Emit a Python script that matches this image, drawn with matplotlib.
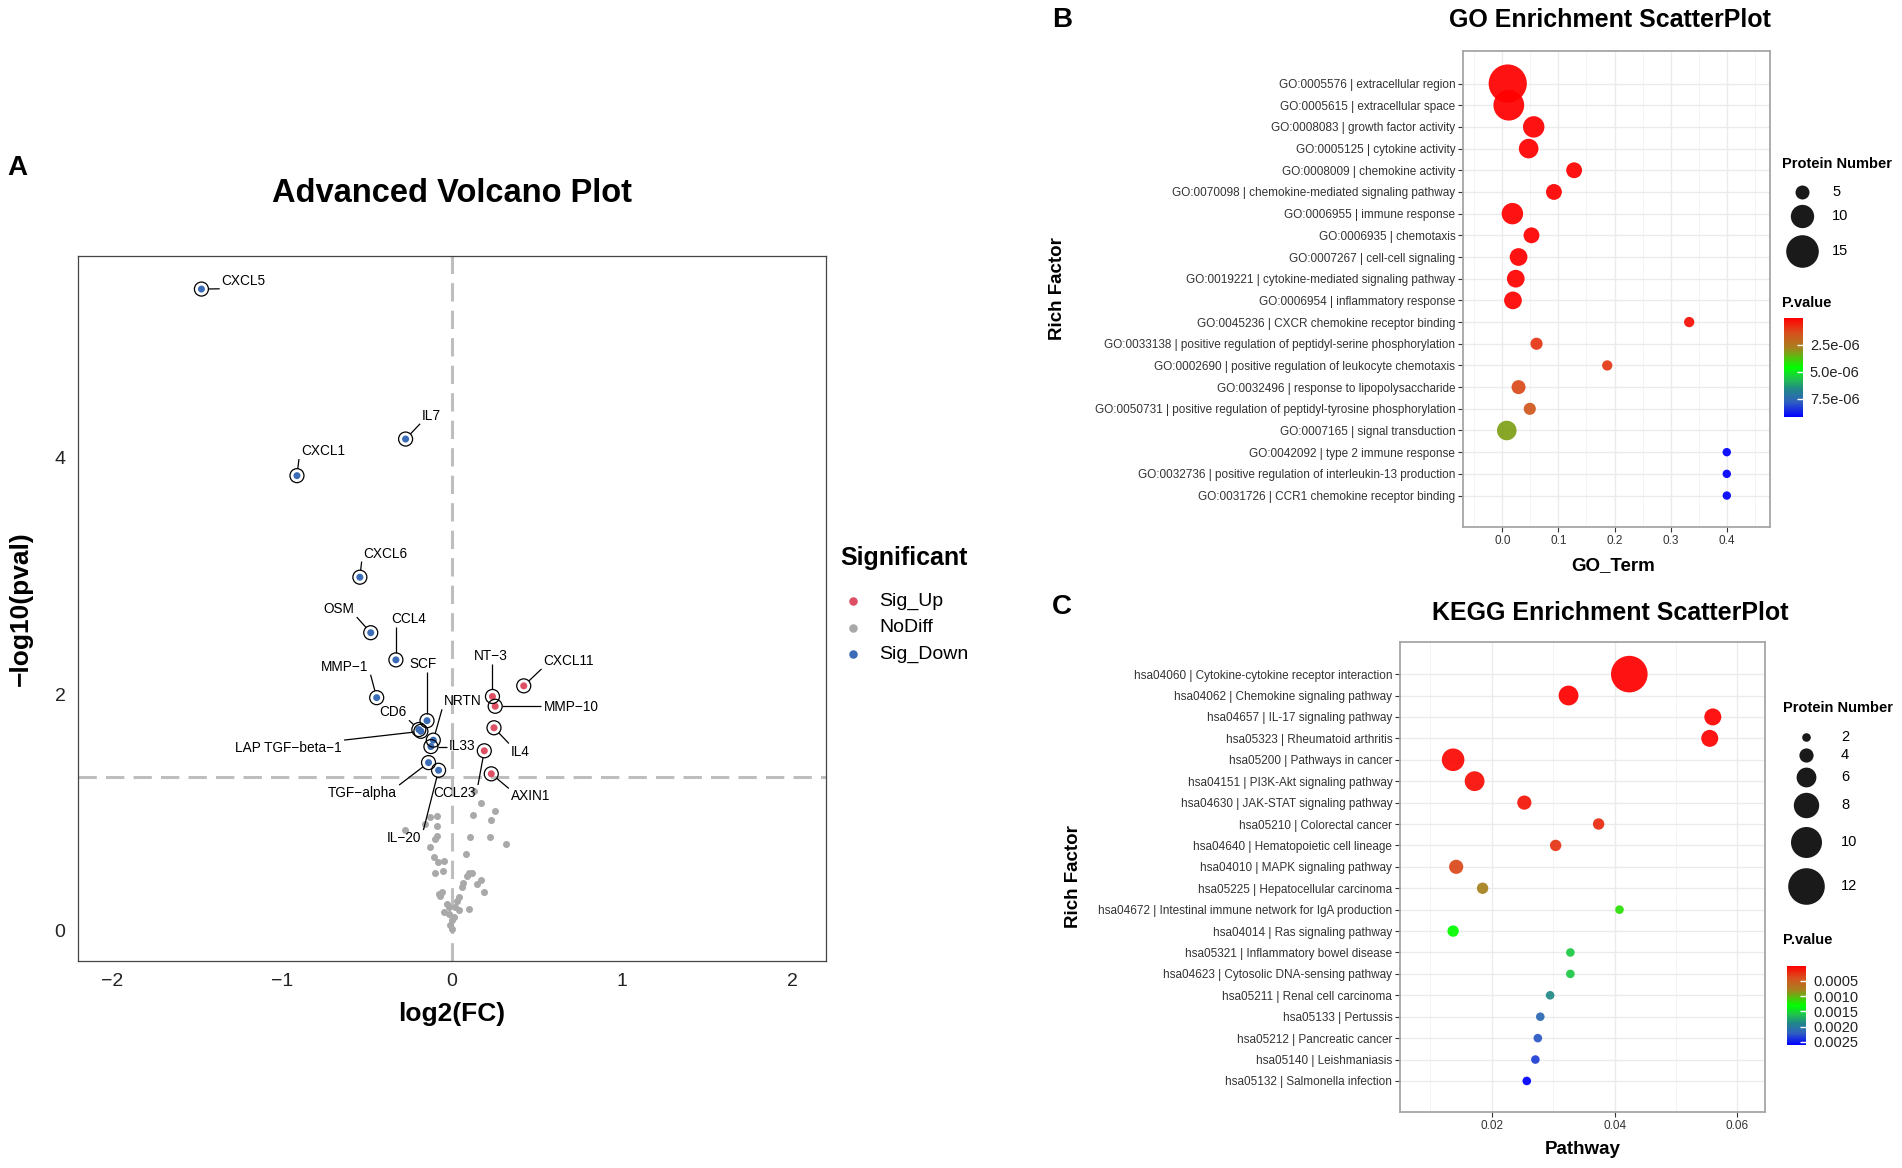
import numpy as np
import matplotlib
matplotlib.use("Agg")
import matplotlib.pyplot as plt
from matplotlib.colors import LinearSegmentedColormap, Normalize
from matplotlib.ticker import FixedLocator

plt.rcParams['font.family'] = ['Liberation Sans', 'DejaVu Sans']

W, H, DPI = 1902, 1168, 100

# ---------------- volcano data ----------------
sig_genes = ["CXCL5", "IL7", "CXCL1", "CXCL6", "OSM", "CCL4", "MMP-1", "SCF", "CD6",
             "LAP TGF-beta-1", "NRTN", "IL33", "TGF-alpha", "IL-20",
             "NT-3", "MMP-10", "CXCL11", "IL4", "CCL23", "AXIN1"]
sig_fc = [-1.474, -0.273, -0.912, -0.542, -0.478, -0.330, -0.443, -0.147, -0.195,
          -0.183, -0.110, -0.124, -0.138, -0.079,
          0.238, 0.254, 0.422, 0.247, 0.190, 0.231]
sig_logp = [5.43, 4.16, 3.85, 2.99, 2.52, 2.29, 1.97, 1.775, 1.70,
            1.685, 1.61, 1.556, 1.42, 1.355,
            1.98, 1.897, 2.07, 1.715, 1.52, 1.325]
sig_group = ["Sig_Down"] * 14 + ["Sig_Up"] * 6

nodiff_fc = [0.127, 0.171, 0.255, 0.122, 0.231, -0.127, -0.088, -0.157, -0.088, -0.275,
             -0.088, -0.102, 0.104, 0.222, 0.318, -0.131, 0.084, -0.106, -0.082, -0.049,
             0.098, 0.118, 0.088, -0.098, -0.055, 0.173, 0.147, 0.065, 0.059, -0.059,
             -0.075, -0.069, 0.190, 0.039, 0.029, -0.029, -0.020, 0.016, 0.039, 0.098,
             -0.049, -0.020, 0.010, 0.000, -0.010, 0.000]
nodiff_logp = [1.18, 1.08, 1.01, 0.975, 0.933, 0.956, 0.967, 0.899, 0.882, 0.848,
               0.797, 0.777, 0.786, 0.792, 0.735, 0.707, 0.650, 0.622, 0.580, 0.588,
               0.486, 0.486, 0.458, 0.486, 0.503, 0.430, 0.396, 0.401, 0.368, 0.325,
               0.311, 0.288, 0.325, 0.283, 0.249, 0.226, 0.198, 0.198, 0.170, 0.184,
               0.155, 0.141, 0.113, 0.085, 0.042, 0.014]

sig_levels = ["Sig_Up", "NoDiff", "Sig_Down"]
pval_cut = 0.05

# ---------------- GO data ----------------
go_terms = ["GO:0005576 | extracellular region",
            "GO:0005615 | extracellular space",
            "GO:0008083 | growth factor activity",
            "GO:0005125 | cytokine activity",
            "GO:0008009 | chemokine activity",
            "GO:0070098 | chemokine-mediated signaling pathway",
            "GO:0006955 | immune response",
            "GO:0006935 | chemotaxis",
            "GO:0007267 | cell-cell signaling",
            "GO:0019221 | cytokine-mediated signaling pathway",
            "GO:0006954 | inflammatory response",
            "GO:0045236 | CXCR chemokine receptor binding",
            "GO:0033138 | positive regulation of peptidyl-serine phosphorylation",
            "GO:0002690 | positive regulation of leukocyte chemotaxis",
            "GO:0032496 | response to lipopolysaccharide",
            "GO:0050731 | positive regulation of peptidyl-tyrosine phosphorylation",
            "GO:0007165 | signal transduction",
            "GO:0042092 | type 2 immune response",
            "GO:0032736 | positive regulation of interleukin-13 production",
            "GO:0031726 | CCR1 chemokine receptor binding"]
go_rich = [0.0097, 0.0116, 0.056, 0.047, 0.128, 0.092, 0.018, 0.052, 0.029, 0.024,
           0.019, 0.333, 0.061, 0.187, 0.029, 0.049, 0.008, 0.4, 0.4, 0.4]
go_count = [18, 14, 9, 8, 6, 6, 9, 6, 7, 7, 7, 3, 4, 3, 5, 4, 8, 2, 2, 2]
go_pval = [1.2e-14, 3.5e-12, 2.1e-10, 5.6e-10, 1.4e-9, 4.8e-9, 7.3e-9, 1.6e-8, 2.9e-8, 4.4e-8,
           6.1e-8, 2.8e-7, 9.2e-7, 1.0e-6, 1.3e-6, 1.65e-6, 3.2e-6, 9.2e-6, 9.2e-6, 9.2e-6]
go_size_breaks = [5, 10, 15]
go_pval_ticks = [2.5e-6, 5.0e-6, 7.5e-6]

# ---------------- KEGG data ----------------
kegg_terms = ["hsa04060 | Cytokine-cytokine receptor interaction",
              "hsa04062 | Chemokine signaling pathway",
              "hsa04657 | IL-17 signaling pathway",
              "hsa05323 | Rheumatoid arthritis",
              "hsa05200 | Pathways in cancer",
              "hsa04151 | PI3K-Akt signaling pathway",
              "hsa04630 | JAK-STAT signaling pathway",
              "hsa05210 | Colorectal cancer",
              "hsa04640 | Hematopoietic cell lineage",
              "hsa04010 | MAPK signaling pathway",
              "hsa05225 | Hepatocellular carcinoma",
              "hsa04672 | Intestinal immune network for IgA production",
              "hsa04014 | Ras signaling pathway",
              "hsa05321 | Inflammatory bowel disease",
              "hsa04623 | Cytosolic DNA-sensing pathway",
              "hsa05211 | Renal cell carcinoma",
              "hsa05133 | Pertussis",
              "hsa05212 | Pancreatic cancer",
              "hsa05140 | Leishmaniasis",
              "hsa05132 | Salmonella infection"]
kegg_rich = [0.0424, 0.0325, 0.0560, 0.0555, 0.0137, 0.0172, 0.0253, 0.0374, 0.0304, 0.0142,
             0.0185, 0.0408, 0.0137, 0.0328, 0.0328, 0.0295, 0.0279, 0.0275, 0.0271, 0.0257]
kegg_count = [12, 6, 5, 5, 7, 6, 4, 3, 3, 4, 3, 2, 3, 2, 2, 2, 2, 2, 2, 2]
kegg_pval = [1.0e-5, 2.0e-5, 3.0e-5, 4.0e-5, 6.0e-5, 8.0e-5, 1.2e-4, 2.2e-4, 2.7e-4, 3.7e-4,
             7.9e-4, 1.18e-3, 1.30e-3, 1.56e-3, 1.57e-3, 1.87e-3, 2.13e-3, 2.24e-3, 2.34e-3, 2.60e-3]
kegg_size_breaks = [2, 4, 6, 8, 10, 12]
kegg_pval_ticks = [0.0005, 0.0010, 0.0015, 0.0020, 0.0025]

# ---------------- layout / style ----------------
sig_colors = {"Sig_Up": "#DE4F64", "NoDiff": "#A9A9A9", "Sig_Down": "#3B6CB6"}
# label text centres (data units) for the volcano annotations
label_xy = {"CXCL5": (-1.225, 5.50), "IL7": (-0.12, 4.357), "CXCL1": (-0.759, 4.059),
            "CXCL6": (-0.39, 3.19), "OSM": (-0.663, 2.72), "CCL4": (-0.253, 2.637),
            "MMP-1": (-0.63, 2.232), "SCF": (-0.173, 2.256), "CD6": (-0.345, 1.846),
            "LAP TGF-beta-1": (-0.96, 1.543), "NRTN": (0.064, 1.939), "IL33": (0.06, 1.563),
            "TGF-alpha": (-0.526, 1.162), "IL-20": (-0.281, 0.781), "CCL23": (0.016, 1.162),
            "NT-3": (0.229, 2.32), "MMP-10": (0.699, 1.895), "CXCL11": (0.687, 2.281),
            "IL4": (0.402, 1.514), "AXIN1": (0.462, 1.133)}

pcmap = LinearSegmentedColormap.from_list(
    "pval", [(0.0, "#FF0000"), (0.15, "#D8501E"), (0.3, "#A8801E"), (0.5, "#00FF00"),
             (0.62, "#20C050"), (0.72, "#208888"), (0.85, "#3060C0"), (1.0, "#0000FF")])


def px_box(x0, y0, x1, y1):
    return [x0 / W, 1 - y1 / H, (x1 - x0) / W, (y1 - y0) / H]


def pt2(d_px):
    return (np.asarray(d_px, dtype=float) * 72.0 / DPI) ** 2


def go_diam(n):
    return 4.7 + 1.86 * np.asarray(n, dtype=float)


def kegg_diam(n):
    return 3.0 + 2.8 * np.asarray(n, dtype=float)


fig = plt.figure(figsize=(W / DPI, H / DPI), dpi=DPI)
ovl = fig.add_axes([0, 0, 1, 1], zorder=10)
ovl.set_xlim(0, W)
ovl.set_ylim(H, 0)
ovl.axis('off')

# ================= A: volcano =================
ax = fig.add_axes(px_box(78, 256, 826, 961))
ax.set_xlim(-2.2, 2.2)
ax.set_ylim(-0.26, 5.71)
dash = (0, (6, 3))
ax.axhline(-np.log10(pval_cut), color='#BEBEBE', lw=2.2, ls=dash, zorder=1)
ax.axvline(0, color='#BEBEBE', lw=2.2, ls=dash, zorder=1)
dot = pt2(7)
ax.scatter(nodiff_fc, nodiff_logp, s=dot, color=sig_colors["NoDiff"], lw=0, zorder=2)
ax.scatter(sig_fc, sig_logp, s=dot, c=[sig_colors[g] for g in sig_group], lw=0, zorder=3)
ax.scatter(sig_fc, sig_logp, s=pt2(14), facecolors='none', edgecolors='black', lw=0.9, zorder=4)

texts = []
for g in sig_genes:
    tx, ty = label_xy[g]
    texts.append(ax.text(tx, ty, g.replace('-', '\u2212'), fontsize=9.8, ha='center',
                         va='center', zorder=6))

ax.set_xticks([-2, -1, 0, 1, 2])
ax.set_yticks([0, 2, 4])
ax.tick_params(length=0, labelsize=14, labelcolor='#222222', pad=9)
for sp in ax.spines.values():
    sp.set_color('#444444')
    sp.set_linewidth(0.9)
ax.set_xlabel('log2(FC)', fontsize=19, fontweight='bold', va='center')
ax.xaxis.set_label_coords(0.5, -(1014 - 961) / 705)
ax.set_ylabel('\u2212log10(pval)', fontsize=19, fontweight='bold', va='center')
ax.yaxis.set_label_coords(-(78 - 21) / 748, 0.5)
ovl.text(452, 193, 'Advanced Volcano Plot', fontsize=23.5, fontweight='bold',
         ha='center', va='center')

# volcano legend
ovl.text(840, 558, 'Significant', fontsize=18, fontweight='bold', ha='left', va='center')
for i, lev in enumerate(sig_levels):
    yy = 601 + i * 26.5
    ovl.scatter([853], [yy], s=pt2(8.5), color=sig_colors[lev], lw=0)
    ovl.text(879, yy, lev, fontsize=14, ha='left', va='center')


# ================= B / C: enrichment =================
def enrich_panel(box, terms, rich, count, pval, diam, xlim, major, minor, fmt,
                 xlab, xlab_xy, ylab_x, title_xy, title):
    a = fig.add_axes(px_box(*box))
    y = np.arange(len(terms))[::-1] + 1
    norm = Normalize(min(pval), max(pval))
    a.scatter(rich, y, s=pt2(diam(count)), c=pval, cmap=pcmap, norm=norm,
              lw=0, alpha=0.93, zorder=3)
    a.set_xlim(*xlim)
    a.set_ylim(0.55 - 1.0, len(terms) + 1.5)
    a.set_yticks(y)
    a.set_yticklabels(terms)
    a.set_xticks(major)
    a.set_xticklabels([fmt(v) for v in major])
    a.xaxis.set_minor_locator(FixedLocator(minor))
    a.set_axisbelow(True)
    a.grid(True, which='major', color='#EBEBEB', lw=1.0)
    a.grid(True, which='minor', axis='x', color='#F3F3F3', lw=0.6)
    a.tick_params(which='minor', length=0)
    a.tick_params(which='major', length=3.5, width=0.8, color='#333333',
                  labelsize=8.5, labelcolor='#333333', pad=2)
    for sp in a.spines.values():
        sp.set_color('#A6A6A6')
        sp.set_linewidth(1.3)
    x0, y0, x1, y1 = box
    a.set_xlabel(xlab, fontsize=13.5, fontweight='bold', va='center')
    a.xaxis.set_label_coords((xlab_xy[0] - x0) / (x1 - x0), -(xlab_xy[1] - y1) / (y1 - y0))
    a.set_ylabel('Rich Factor', fontsize=13.5, fontweight='bold', va='center')
    a.yaxis.set_label_coords(-(x0 - ylab_x) / (x1 - x0), 0.5)
    ovl.text(title_xy[0], title_xy[1], title, fontsize=18, fontweight='bold',
             ha='center', va='center')
    return norm


go_norm = enrich_panel((1463, 51, 1770, 527), go_terms, go_rich, go_count, go_pval, go_diam,
                       (-0.07, 0.477), [0.0, 0.1, 0.2, 0.3, 0.4],
                       [-0.05, 0.05, 0.15, 0.25, 0.35, 0.45], lambda v: f"{v:.1f}",
                       'GO_Term', (1613, 566), 1057, (1610, 20), 'GO Enrichment ScatterPlot')
kegg_norm = enrich_panel((1400, 642, 1765, 1112), kegg_terms, kegg_rich, kegg_count, kegg_pval,
                         kegg_diam, (0.00505, 0.0645), [0.02, 0.04, 0.06], [0.01, 0.03, 0.05],
                         lambda v: f"{v:.2f}", 'Pathway', (1583, 1150), 1073, (1610, 613),
                         'KEGG Enrichment ScatterPlot')


def size_legend(x, y_title, key_x, lab_x, key_y, breaks, diam):
    ovl.text(x, y_title, 'Protein Number', fontsize=10.5, fontweight='bold',
             ha='left', va='center')
    for b, yy in zip(breaks, key_y):
        ovl.scatter([key_x], [yy], s=pt2(diam(b)), color='#1A1A1A', lw=0)
        ovl.text(lab_x, yy, str(b), fontsize=10.5, ha='left', va='center')


def pval_bar(x, y_title, bar_box, norm, ticks, fmt):
    ovl.text(x, y_title, 'P.value', fontsize=10.5, fontweight='bold', ha='left', va='center')
    cax = fig.add_axes(px_box(*bar_box))
    sm = plt.cm.ScalarMappable(norm=norm, cmap=pcmap)
    cb = fig.colorbar(sm, cax=cax, ticks=ticks)
    cb.ax.invert_yaxis()
    cb.outline.set_visible(False)
    cb.ax.set_yticklabels([fmt(v) for v in ticks])
    cb.ax.tick_params(length=4, width=1, color='white', direction='in',
                      labelsize=10.5, labelcolor='#222222', pad=5)


size_legend(1782, 164, 1802, 1832, [192, 216, 251], go_size_breaks, go_diam)
pval_bar(1782, 303, (1784, 318, 1803, 417), go_norm, go_pval_ticks, lambda v: f"{v:.1e}")
size_legend(1783, 708, 1806, 1841, [737, 755, 777, 805, 842, 886], kegg_size_breaks, kegg_diam)
pval_bar(1783, 940, (1787, 966, 1806, 1045), kegg_norm, kegg_pval_ticks, lambda v: f"{v:.4f}")

# panel letters
for letter, (lx, ly) in zip("ABC", [(17, 168), (1062, 20), (1062, 607)]):
    ovl.text(lx, ly, letter, fontsize=20, fontweight='bold', ha='center', va='center')

# ---- repel-style segments from points to label boxes ----
fig.canvas.draw()
rend = fig.canvas.get_renderer()
inv = ax.transData.inverted()
ring_r = 7.0
for t, px, py in zip(texts, sig_fc, sig_logp):
    bb = t.get_window_extent(rend)
    p = ax.transData.transform((px, py))
    ex = min(max(p[0], bb.x0 - 2), bb.x1 + 2)
    ey = min(max(p[1], bb.y0 - 1), bb.y1 + 1)
    v = np.array([ex - p[0], ey - p[1]])
    dist = np.hypot(*v)
    if dist <= ring_r + 1:
        continue
    s = p + v / dist * ring_r
    (sx, sy), (qx, qy) = inv.transform([s, (ex, ey)])
    ax.plot([sx, qx], [sy, qy], color='black', lw=0.9, zorder=5, solid_capstyle='butt')

fig.savefig('out.png', dpi=DPI, facecolor='white')
